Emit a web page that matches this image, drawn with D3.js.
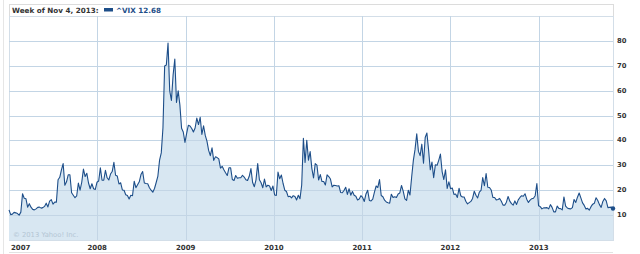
<!DOCTYPE html>
<html>
<head>
<meta charset="utf-8">
<script src="https://cdn.jsdelivr.net/npm/d3@7"></script>
<style>
  body { margin: 0; background: #fff; }
  svg { display: block; font-family: "DejaVu Sans", Verdana, sans-serif; }
  .tick-label { font-weight: bold; fill: #333; }
</style>
</head>
<body>
<svg width="640" height="254"></svg>
<script>
// weekly closes of ^VIX, weeks starting Monday Jan 1, 2007
const vix2007 = [12.1, 10.2, 10.4, 11.1, 10.9, 10.6, 10.0, 11.2, 18.6, 16.8, 16.6, 13.2, 14.6,
  13.2, 12.3, 12.1, 12.5, 13.1, 13.2, 12.8, 13.0, 13.5, 14.8, 13.3, 15.6, 16.2,
  14.4, 15.2, 15.2, 24.2, 25.2, 28.2, 30.7, 22.0, 23.4, 26.2, 26.2, 19.0, 18.0,
  17.0, 17.7, 22.9, 20.0, 23.2, 28.5, 25.5, 26.8, 22.9, 20.6, 22.6, 20.6, 20.3];
const vix2008 = [23.2, 23.7, 29.0, 24.0, 24.0, 28.0, 25.0, 24.1, 26.5, 27.5, 31.2, 26.0, 25.7,
  22.5, 23.0, 20.1, 20.0, 18.2, 17.9, 16.5, 18.0, 17.8, 23.6, 21.0, 22.2, 23.4,
  26.3, 27.5, 22.9, 22.7, 22.6, 21.0, 20.0, 19.2, 20.7, 23.1, 25.7, 32.1, 35.0,
  45.1, 69.9, 70.3, 79.1, 59.9, 56.1, 66.3, 72.7, 55.3, 59.9, 54.3, 44.9, 43.4];
const vix2009 = [39.2, 42.8, 46.1, 45.8, 44.8, 43.4, 45.0, 49.0, 46.4, 49.3, 42.4, 45.9, 42.0,
  39.7, 36.0, 33.9, 37.0, 32.0, 33.4, 33.1, 32.6, 28.9, 29.6, 28.2, 27.0, 25.9,
  29.0, 29.0, 24.3, 23.9, 25.9, 24.8, 25.0, 25.0, 26.0, 25.3, 24.2, 23.9, 25.6,
  28.7, 23.1, 21.4, 24.2, 30.7, 24.2, 23.0, 21.0, 24.5, 21.3, 22.0, 21.7, 19.9];
const vix2010 = [21.7, 18.1, 17.9, 27.3, 24.6, 26.1, 22.7, 20.0, 19.5, 17.4, 17.6, 16.9, 17.8,
  17.5, 16.1, 18.0, 16.6, 22.1, 40.9, 31.2, 40.1, 32.1, 35.5, 28.8, 24.9, 30.7,
  30.1, 24.1, 26.3, 23.5, 23.5, 22.1, 26.2, 25.5, 24.5, 21.3, 22.0, 21.9, 21.7,
  21.8, 19.1, 19.0, 19.9, 21.2, 18.3, 20.6, 18.0, 19.5, 18.0, 17.6, 16.1, 16.5, 17.8];
const vix2011 = [17.1, 15.5, 18.5, 20.0, 15.9, 15.7, 16.4, 19.2, 21.7, 21.1, 24.3, 17.9,
  17.4, 16.0, 15.3, 15.0, 14.8, 18.4, 17.1, 17.4, 17.1, 18.5, 18.9, 21.9, 19.6,
  16.5, 15.9, 20.0, 18.1, 25.3, 32.0, 36.4, 42.7, 35.6, 33.9, 38.5, 30.9, 41.2, 43.0,
  36.2, 28.2, 31.3, 25.0, 30.2, 30.0, 32.0, 34.5, 27.5, 24.3, 28.2, 20.7, 23.4];
const vix2012 = [20.6, 20.9, 18.3, 18.5, 17.1, 20.8, 17.8, 17.3, 17.3, 15.6, 14.5, 15.0, 15.5,
  16.7, 19.6, 18.0, 16.9, 19.2, 19.9, 25.1, 21.8, 26.7, 21.2, 21.1, 20.1, 17.1,
  17.1, 16.1, 16.3, 16.7, 15.6, 14.0, 14.0, 15.2, 17.5, 15.6, 14.6, 14.0, 15.7,
  14.3, 16.1, 17.1, 17.8, 17.6, 18.6, 16.4, 15.1, 16.0, 16.6, 16.8, 17.8, 22.7];
const vix2013 = [13.8, 13.4, 12.5, 12.9, 12.9, 13.0, 12.5, 14.2, 13.1, 11.3, 11.3, 13.6, 12.7,
  12.6, 12.1, 17.3, 13.6, 12.9, 12.6, 12.5, 13.0, 16.3, 15.1, 17.2, 18.9, 16.9,
  14.9, 13.9, 12.5, 12.7, 12.0, 13.4, 14.4, 14.8, 17.0, 15.9, 14.2, 13.1, 15.5,
  16.7, 15.7, 13.0, 13.1, 13.2, 12.68];

const firstWeek = new Date(2007, 0, 1);
const lastWeek = new Date(2013, 10, 4);
const yTicks = [10, 20, 30, 40, 50, 60, 70, 80];
const years = [2007, 2008, 2009, 2010, 2011, 2012, 2013];
const headerLabel = "Week of Nov 4, 2013:";
const seriesLabel = "^VIX 12.68";

const values = [].concat(vix2007, vix2008, vix2009, vix2010, vix2011, vix2012, vix2013);
const data = values.map((v, i) => ({ date: d3.timeWeek.offset(firstWeek, i), value: v }));

const svg = d3.select("svg");
const plotL = 9, plotR = 613, plotT = 16, plotB = 240;

const x = d3.scaleTime().domain([firstWeek, lastWeek]).range([plotL, plotR]);
const y = d3.scaleLinear().domain([0, 90]).range([plotB, plotT]);

// outer panel edge
svg.append("line")
  .attr("x1", 3.5).attr("x2", 3.5).attr("y1", 0).attr("y2", 254)
  .attr("stroke", "#e6e6e6");

// header box
svg.append("rect")
  .attr("x", plotL + 0.5).attr("y", 4.5)
  .attr("width", plotR - plotL).attr("height", plotT - 4)
  .attr("fill", "#fff").attr("stroke", "#dcdcdc");

svg.append("text")
  .attr("x", 12).attr("y", 12.5)
  .style("font-size", "7.2px").style("font-weight", "bold")
  .attr("fill", "#333")
  .text(headerLabel);

svg.append("rect")
  .attr("x", 104).attr("y", 8).attr("width", 9).attr("height", 3.5)
  .attr("fill", "#1d4e89");

svg.append("text")
  .attr("x", 116).attr("y", 12.5)
  .style("font-size", "7.2px").style("font-weight", "bold")
  .attr("fill", "#1d4e89")
  .text(seriesLabel);

// plot background
svg.append("rect")
  .attr("x", plotL + 0.5).attr("y", plotT + 0.5)
  .attr("width", plotR - plotL).attr("height", plotB - plotT)
  .attr("fill", "#fff").attr("stroke", "#d3dee8");

const area = d3.area()
  .x(d => x(d.date))
  .y0(y(0))
  .y1(d => y(d.value));

svg.append("path")
  .datum(data)
  .attr("d", area)
  .attr("fill", "#d8e7f2");

// grid
const grid = svg.append("g").attr("stroke", "#c3d5e5").attr("stroke-width", 1);
grid.selectAll(".hg")
  .data(yTicks)
  .enter()
  .append("line")
  .attr("x1", plotL).attr("x2", plotR)
  .attr("y1", d => Math.round(y(d)) + 0.5)
  .attr("y2", d => Math.round(y(d)) + 0.5);

grid.selectAll(".vg")
  .data(years.slice(1))
  .enter()
  .append("line")
  .attr("x1", d => Math.round(x(new Date(d, 0, 1))) + 0.5)
  .attr("x2", d => Math.round(x(new Date(d, 0, 1))) + 0.5)
  .attr("y1", plotT).attr("y2", plotB);

svg.append("text")
  .attr("x", 13).attr("y", 237)
  .style("font-size", "6.8px")
  .attr("fill", "#b4c6d4")
  .text("\u00a9 2013 Yahoo! Inc.");

const line = d3.line()
  .x(d => x(d.date))
  .y(d => y(d.value));

svg.append("path")
  .datum(data)
  .attr("d", line)
  .attr("fill", "none")
  .attr("stroke", "#1d4e89")
  .attr("stroke-width", 1.1)
  .attr("stroke-linejoin", "round");

const last = data[data.length - 1];
svg.append("circle")
  .attr("cx", x(last.date)).attr("cy", y(last.value))
  .attr("r", 2.2)
  .attr("fill", "#1d4e89");

// y labels
svg.selectAll(".ylab")
  .data(yTicks)
  .enter()
  .append("text")
  .attr("class", "tick-label")
  .attr("x", 617)
  .attr("y", d => y(d) + 2)
  .style("font-size", "6.8px")
  .text(d => d);

// year labels
svg.selectAll(".xlab")
  .data(years)
  .enter()
  .append("text")
  .attr("class", "tick-label")
  .attr("x", d => d === 2007 ? 11 : x(new Date(d, 0, 1)))
  .attr("y", 249.5)
  .attr("text-anchor", d => d === 2007 ? "start" : "middle")
  .style("font-size", "7px")
  .text(d => d);

svg.append("line")
  .attr("x1", plotL).attr("x2", plotR)
  .attr("y1", 252.5).attr("y2", 252.5)
  .attr("stroke", "#e2e2e2");
</script>
</body>
</html>
